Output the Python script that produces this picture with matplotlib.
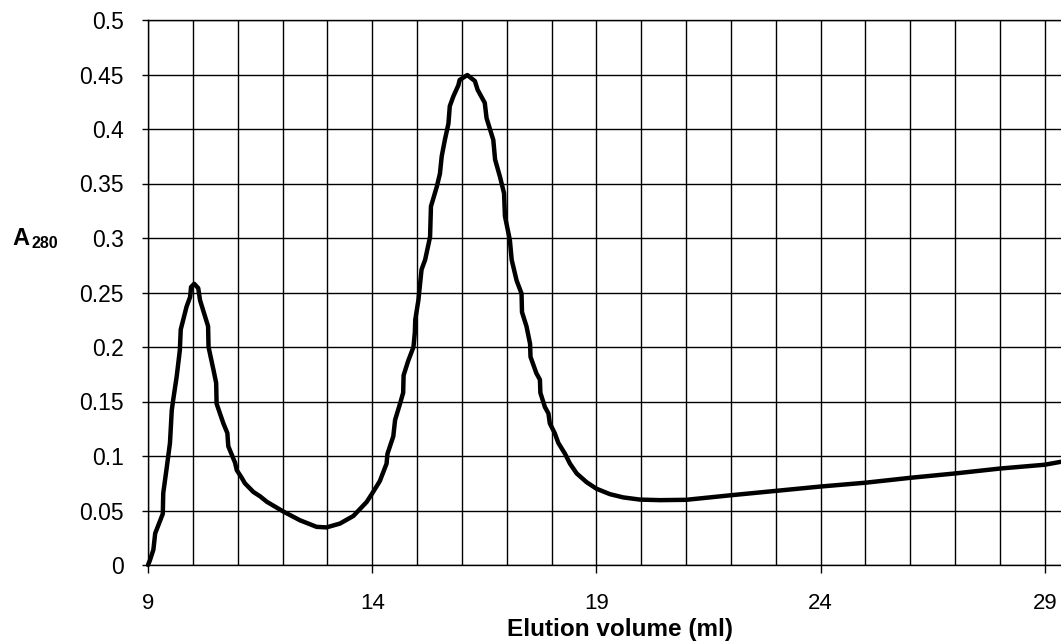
import matplotlib
matplotlib.use("Agg")
import matplotlib.pyplot as plt
from matplotlib.ticker import MultipleLocator, FixedLocator

plt.rcParams['font.family'] = ['Liberation Sans', 'DejaVu Sans']

# Elution volume (ml)
volume = [
    9.00, 9.04, 9.12, 9.16, 9.33, 9.34, 9.42, 9.49, 9.53, 9.56,
    9.64, 9.71, 9.73, 9.86, 9.94, 9.96, 10.03, 10.12, 10.16, 10.34,
    10.35, 10.46, 10.52, 10.53, 10.68, 10.77, 10.79, 10.94, 10.98, 11.09,
    11.16, 11.35, 11.50, 11.65, 12.02, 12.39, 12.76, 12.98, 13.28, 13.58,
    13.88, 14.02, 14.17, 14.32, 14.34, 14.47, 14.51, 14.62, 14.69, 14.70,
    14.80, 14.92, 14.95, 14.96, 15.03, 15.10, 15.18, 15.29, 15.31, 15.44,
    15.51, 15.55, 15.62, 15.70, 15.73, 15.81, 15.92, 15.95, 16.12, 16.29,
    16.35, 16.51, 16.55, 16.70, 16.74, 16.85, 16.94, 16.96, 17.07, 17.11,
    17.22, 17.33, 17.34, 17.44, 17.52, 17.53, 17.66, 17.74, 17.75, 17.85,
    17.93, 17.96, 18.07, 18.15, 18.30, 18.41, 18.56, 18.78, 19.00, 19.30,
    19.60, 19.97, 20.42, 21.00, 22.00, 23.00, 24.00, 25.00, 26.00, 27.00,
    28.00, 29.00, 29.40,
]
# Absorbance at 280 nm
absorbance = [
    0.000, 0.004, 0.014, 0.029, 0.047, 0.066, 0.090, 0.112, 0.142, 0.151,
    0.173, 0.197, 0.216, 0.237, 0.246, 0.255, 0.258, 0.254, 0.243, 0.219,
    0.200, 0.179, 0.167, 0.148, 0.130, 0.121, 0.109, 0.094, 0.087, 0.080,
    0.075, 0.067, 0.063, 0.058, 0.049, 0.041, 0.035, 0.0345, 0.038, 0.045,
    0.058, 0.067, 0.077, 0.093, 0.102, 0.118, 0.133, 0.148, 0.158, 0.174,
    0.187, 0.200, 0.213, 0.225, 0.243, 0.271, 0.280, 0.301, 0.329, 0.347,
    0.359, 0.375, 0.390, 0.405, 0.421, 0.430, 0.440, 0.445, 0.4495, 0.444,
    0.436, 0.424, 0.410, 0.390, 0.372, 0.356, 0.341, 0.320, 0.298, 0.280,
    0.261, 0.249, 0.232, 0.219, 0.203, 0.191, 0.176, 0.170, 0.158, 0.145,
    0.139, 0.130, 0.121, 0.112, 0.102, 0.093, 0.084, 0.076, 0.070, 0.065,
    0.062, 0.060, 0.0595, 0.0598, 0.064, 0.068, 0.072, 0.0755, 0.080, 0.084,
    0.0885, 0.092, 0.095,
]

x_major = [9, 14, 19, 24, 29]
y_ticks = [0, 0.05, 0.1, 0.15, 0.2, 0.25, 0.3, 0.35, 0.4, 0.45, 0.5]
y_labels = ['0', '0.05', '0.1', '0.15', '0.2', '0.25', '0.3', '0.35', '0.4', '0.45', '0.5']

W, H = 1061, 641
fig = plt.figure(figsize=(W / 100, H / 100), dpi=100)
ax = fig.add_axes([148 / W, 76 / H, (W - 148) / W, (565 - 20) / H])

ax.plot(volume, absorbance, color='black', lw=3.2, solid_joinstyle='round',
        solid_capstyle='round', zorder=3, clip_on=False)

ax.set_xlim(9, 29.36)
ax.set_ylim(0, 0.5)

ax.xaxis.set_major_locator(FixedLocator(x_major))
ax.xaxis.set_minor_locator(MultipleLocator(1))
ax.yaxis.set_major_locator(FixedLocator(y_ticks))
ax.set_yticklabels(y_labels)

ax.grid(True, which='both', axis='x', color='black', lw=1.0)
ax.grid(True, which='major', axis='y', color='black', lw=1.0)
ax.set_axisbelow(True)

ax.tick_params(axis='x', which='major', direction='out', length=6, width=1,
               pad=14, labelsize=16, color='black')
ax.tick_params(axis='x', which='minor', length=0)
ax.tick_params(axis='y', which='major', direction='out', length=4.5, width=1,
               pad=13, labelsize=16.5, color='black')

ax.spines['right'].set_visible(False)
for s in ['left', 'bottom', 'top']:
    ax.spines[s].set_color('black')
    ax.spines[s].set_linewidth(1.0)

fig.text(620 / W, 5 / H, 'Elution volume (ml)', ha='center', va='baseline',
         fontsize=17.5, fontweight='bold')
fig.text(12 / W, (H - 245) / H, 'A', ha='left', va='baseline',
         fontsize=17, fontweight='bold')
fig.text(31 / W, (H - 248) / H, '280', ha='left', va='baseline',
         fontsize=11.5, fontweight='bold')

fig.savefig('out.png', dpi=100)
